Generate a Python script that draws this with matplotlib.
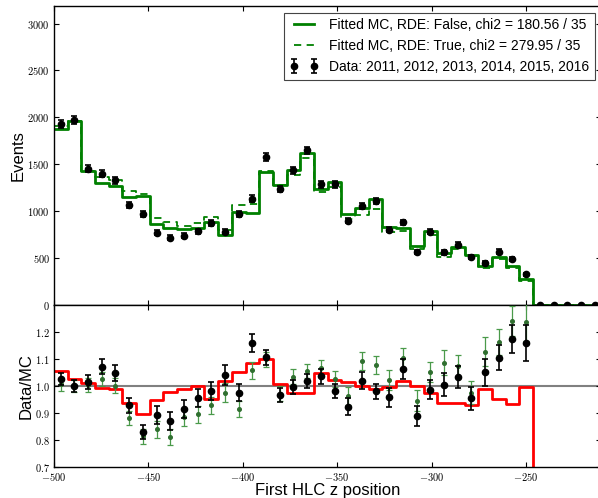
import numpy as np
import matplotlib
matplotlib.use("Agg")
import matplotlib.pyplot as plt
from matplotlib.ticker import FuncFormatter, MultipleLocator, FixedLocator

# 40 bins of 7.25 between -500 and -210
edges = np.linspace(-500, -210, 41)
centers = 0.5 * (edges[:-1] + edges[1:])

mc_rde_false = [1872, 1964, 1431, 1303, 1268, 1147, 1165, 863, 817, 806,
                824, 888, 746, 994, 977, 1420, 1279, 1438, 1616, 1238,
                1309, 966, 1030, 1129, 835, 824, 629, 792, 551, 621,
                533, 419, 515, 416, 277, 0, 0, 0, 0, 0]
mc_rde_true = [1907, 1962, 1428, 1361, 1330, 1213, 1186, 925, 886, 840,
               878, 941, 798, 1067, 1071, 1425, 1275, 1385, 1565, 1200,
               1255, 920, 961, 1025, 783, 793, 592, 742, 510, 597,
               521, 390, 489, 393, 260, 0, 0, 0, 0, 0]
data = [1925, 1968, 1454, 1397, 1330, 1065, 966, 772, 715, 736,
        784, 873, 780, 970, 1134, 1575, 1237, 1434, 1648, 1285,
        1285, 900, 1053, 1108, 801, 880, 563, 781, 560, 643,
        511, 445, 568, 492, 325, 0, 0, 0, 0, 0]

ratio_false = [1.025, 1.000, 1.015, 1.071, 1.047, 0.927, 0.829, 0.892, 0.869, 0.915,
               0.955, 0.980, 1.040, 0.974, 1.159, 1.106, 0.966, 0.995, 1.018, 1.035,
               0.981, 0.923, 1.019, 0.979, 0.957, 1.063, 0.889, 0.986, 1.004, 1.031,
               0.953, 1.050, 1.104, 1.174, 1.159]
ratio_true = [1.005, 0.998, 1.003, 1.025, 1.001, 0.880, 0.812, 0.838, 0.810, 0.883,
              0.895, 0.928, 0.974, 0.913, 1.058, 1.098, 0.970, 1.034, 1.056, 1.066,
              1.025, 0.963, 1.092, 1.078, 1.021, 1.104, 0.945, 1.052, 1.085, 1.073,
              0.975, 1.127, 1.163, 1.241, 1.235]
ratio_red = [1.054, 1.025, 1.012, 0.991, 0.988, 0.935, 0.894, 0.947, 0.977, 0.989,
             1.000, 0.952, 1.019, 1.051, 1.086, 1.100, 1.006, 0.973, 0.975, 1.046,
             1.022, 1.014, 0.998, 0.990, 0.994, 1.017, 0.998, 0.974, 0.935, 0.935,
             0.930, 0.989, 0.950, 0.933, 0.997, 0, 0, 0, 0, 0]

mc_rde_false = np.array(mc_rde_false, float)
mc_rde_true = np.array(mc_rde_true, float)
data = np.array(data, float)
n_fill = len(ratio_false)

plt.rcParams['font.family'] = ['Liberation Sans', 'DejaVu Sans']
plt.rcParams['mathtext.fontset'] = 'cm'
plt.rcParams['xtick.direction'] = 'in'
plt.rcParams['ytick.direction'] = 'in'
plt.rcParams['xtick.top'] = True
plt.rcParams['ytick.right'] = True
plt.rcParams['xtick.major.size'] = 3.5
plt.rcParams['ytick.major.size'] = 3.5
plt.rcParams['xtick.major.pad'] = 3
plt.rcParams['ytick.major.pad'] = 3
plt.rcParams['axes.linewidth'] = 1.0


def step_y(vals):
    return np.append(vals, vals[-1])


int_fmt = FuncFormatter(lambda v, pos: r'$%d$' % round(v))
dec_fmt = FuncFormatter(lambda v, pos: r'$%.1f$' % v)

fig = plt.figure(figsize=(5.98, 4.98), dpi=100)
ax1 = fig.add_axes([0.0901, 0.3876, 0.9157, 0.6010])
ax2 = fig.add_axes([0.0901, 0.0629, 0.9157, 0.3247])

# upper panel: fitted MC templates and data
ax1.plot(edges, step_y(mc_rde_false), drawstyle='steps-post', color='green', lw=2.0,
         label='Fitted MC, RDE: False, chi2 = 180.56 / 35')
ax1.plot(edges, step_y(mc_rde_true), drawstyle='steps-post', color='green', lw=1.3,
         ls=(0, (4, 3)), label='Fitted MC, RDE: True, chi2 = 279.95 / 35')
ax1.errorbar(centers, data, yerr=np.sqrt(data), fmt='o', color='k', ms=4.5,
             capsize=2, elinewidth=1.2, capthick=1.2,
             label='Data: 2011, 2012, 2013, 2014, 2015, 2016')
ax1.set_xlim(-500, -210)
ax1.set_ylim(0, 3190)
ax1.set_ylabel('Events', fontsize=12, labelpad=1)
ax1.yaxis.set_major_locator(MultipleLocator(500))
ax1.xaxis.set_major_locator(MultipleLocator(50))
ax1.yaxis.set_major_formatter(int_fmt)
ax1.set_xticklabels([])
ax1.tick_params(labelsize=7.5)
leg = ax1.legend(loc='upper right', fontsize=10, numpoints=2, fancybox=False,
                 framealpha=1, edgecolor='#444444', borderaxespad=0.5,
                 handlelength=2.0, handletextpad=0.8, labelspacing=0.5, borderpad=0.4)
leg.get_frame().set_linewidth(0.8)

# lower panel: data / MC ratios
fc = centers[:n_fill]
ax2.axhline(1.0, color='gray', lw=1.5, zorder=1)
ax2.plot(edges, step_y(ratio_red), drawstyle='steps-post', color='red', lw=2.0, zorder=2)
ax2.errorbar(fc, ratio_true, yerr=np.sqrt(data[:n_fill]) / mc_rde_true[:n_fill],
             fmt='o', color='#2f6f2f', ecolor='#4a9a4a', ms=2.6, capsize=2,
             elinewidth=0.9, capthick=0.9, zorder=3)
ax2.errorbar(fc, ratio_false, yerr=np.sqrt(data[:n_fill]) / mc_rde_false[:n_fill],
             fmt='o', color='k', ms=4.5, capsize=2, elinewidth=1.2, capthick=1.2,
             zorder=4)
ax2.set_xlim(-500, -210)
ax2.set_ylim(0.7, 1.3)
ax2.yaxis.set_major_locator(FixedLocator([0.7, 0.8, 0.9, 1.0, 1.1, 1.2]))
ax2.xaxis.set_major_locator(MultipleLocator(50))
ax2.xaxis.set_major_formatter(int_fmt)
ax2.yaxis.set_major_formatter(dec_fmt)
ax2.tick_params(labelsize=7.5)
ax2.set_ylabel('Data/MC', fontsize=12, labelpad=1)
ax2.set_xlabel('First HLC z position', fontsize=12, labelpad=0)

fig.savefig('out.png', dpi=100)
